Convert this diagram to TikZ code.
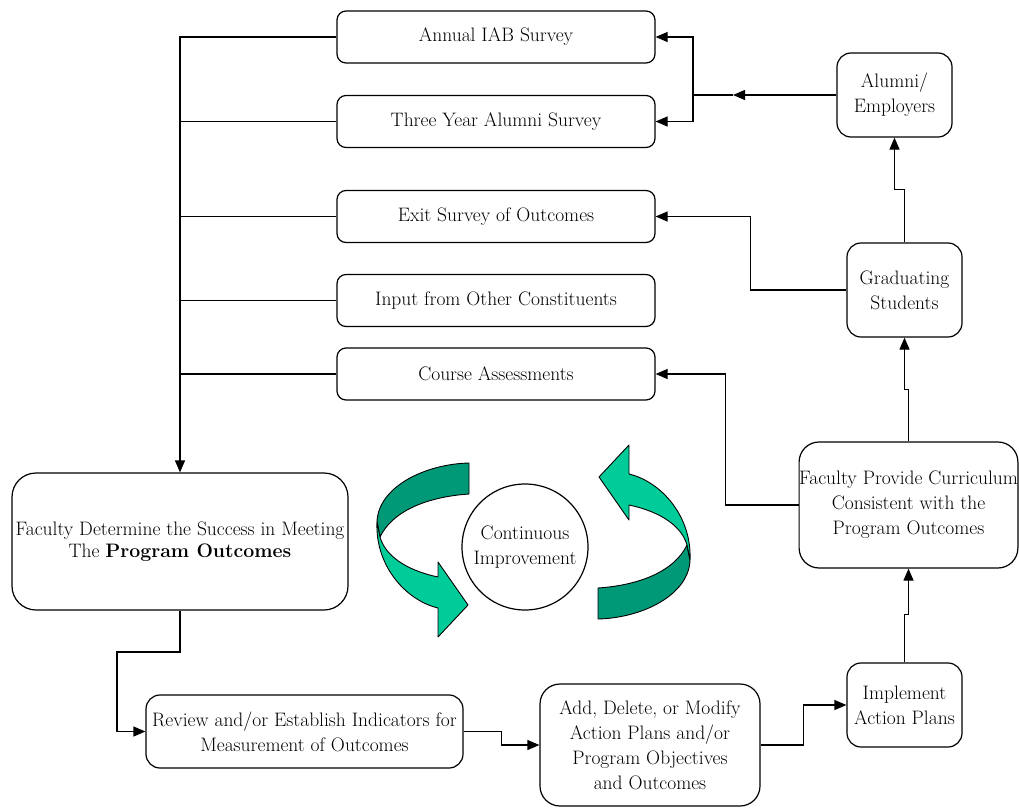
\documentclass[tikz,border=0pt]{standalone}
\usepackage{fontspec}
\usetikzlibrary{arrows.meta}
\definecolor{tealdark}{RGB}{0,153,119}
\definecolor{teallight}{RGB}{0,204,153}
\tikzset{
  box/.style={draw, line width=1.2pt, rounded corners=9pt, align=center, inner sep=0pt,
    font=\fontsize{19.5}{25}\selectfont},
  conn/.style={line width=1.2pt},
  arr/.style={conn, -{Triangle[length=12pt,width=10pt]}},
  ribbon/.style={draw, line width=0.9pt, line join=round},
}
\begin{document}
\begin{tikzpicture}[x=1pt,y=-1pt]
\useasboundingbox (0,0) rectangle (1019,809);

% survey boxes
\node[box, minimum width=318pt, minimum height=52pt] (iab)   at (496,37)    {Annual IAB Survey};
\node[box, minimum width=318pt, minimum height=52pt] (alum3) at (496,121.5) {Three Year Alumni Survey};
\node[box, minimum width=318pt, minimum height=52pt] (exit)  at (496,216.5) {Exit Survey of Outcomes};
\node[box, minimum width=318pt, minimum height=52pt] (input) at (496,300.5) {Input from Other Constituents};
\node[box, minimum width=318pt, minimum height=52pt] (course) at (496,374)  {Course Assessments};

% right column
\node[box, rounded corners=14pt, minimum width=115pt, minimum height=84pt] (alumni) at (894.5,95) {Alumni/\\Employers};
\node[box, rounded corners=14pt, minimum width=115pt, minimum height=94pt] (grad) at (904.5,290) {Graduating\\Students};
\node[box, rounded corners=20pt, minimum width=217pt, minimum height=126pt] (facprov) at (908.5,505)
  {Faculty Provide Curriculum\\Consistent with the\\Program Outcomes};
\node[box, rounded corners=14pt, minimum width=115pt, minimum height=84pt] (impl) at (904.5,705) {Implement\\Action Plans};

% bottom row
\node[box, rounded corners=20pt, minimum width=220pt, minimum height=122pt] (add) at (650,745)
  {Add, Delete, or Modify\\Action Plans and/or\\Program Objectives\\and Outcomes};
\node[box, rounded corners=14pt, minimum width=317pt, minimum height=73pt] (review) at (304.5,731.5)
  {Review and/or Establish Indicators for\\Measurement of Outcomes};

% left
\node[box, rounded corners=24pt, minimum width=336pt, minimum height=137pt,
  font=\fontsize{19.5}{22}\selectfont] (facdet) at (180,541.5)
  {Faculty Determine the Success in Meeting\\The \textbf{Program Outcomes}};

% centre circle
\node[draw, circle, line width=1.2pt, minimum size=126pt, inner sep=0pt, align=center,
  font=\fontsize{19.5}{25}\selectfont] (ci) at (525,547) {Continuous\\Improvement};

% curved arrows
\begin{scope}
  \fill[tealdark, ribbon, draw=black] (469,463) .. controls (425,464) and (378,487) .. (377,522)
     -- (380,537) .. controls (392,512) and (425,497) .. (469,494) -- cycle;
  \fill[teallight, ribbon, draw=black] (377,522) .. controls (375,565) and (405,600) .. (438,608)
     -- (438,637) -- (468,605) -- (438,562) -- (438,577)
     .. controls (405,570) and (385,555) .. (380,537) -- cycle;
\end{scope}
\begin{scope}[rotate around={180:(533.5,541)}]
  \fill[tealdark, ribbon, draw=black] (469,463) .. controls (425,464) and (378,487) .. (377,522)
     -- (380,537) .. controls (392,512) and (425,497) .. (469,494) -- cycle;
  \fill[teallight, ribbon, draw=black] (377,522) .. controls (375,565) and (405,600) .. (438,608)
     -- (438,637) -- (468,605) -- (438,562) -- (438,577)
     .. controls (405,570) and (385,555) .. (380,537) -- cycle;
\end{scope}

% connectors: alumni to surveys
\coordinate (mA) at (733,95);
\coordinate (jA) at (693,95);
\draw[arr] (alumni.west) -- (mA);
\draw[conn] (mA) -- (jA);
\draw[arr] (jA) |- (iab.east);
\draw[arr] (jA) |- (alum3.east);

% bus to faculty determine
\draw[arr] (iab.west) -| (facdet.north);
\draw[conn] (alum3.west) -- (alum3.west -| facdet.north);
\draw[conn] (exit.west) -- (exit.west -| facdet.north);
\draw[conn] (input.west) -- (input.west -| facdet.north);
\draw[conn] (course.west) -- (course.west -| facdet.north);

% bottom flow
\coordinate (c1) at (117,652);
\draw[arr] (facdet.south) |- (c1) |- (review.west);
\draw[arr] (review.east) -- ++(38,0) |- (add.west);
\draw[arr] (add.east) -- ++(43,0) |- (impl.west);
\draw[arr] (impl.north) -- ++(0,-48) -| (facprov.south);
\draw[arr] (facprov.north) -- ++(0,-52) -| (grad.south);
\draw[arr] (grad.north) -- ++(0,-53) -| (alumni.south);

% feedback to surveys
\draw[arr] (grad.west) -- ++(-96,0) |- (exit.east);
\draw[arr] (facprov.west) -- ++(-73,0) |- (course.east);
\end{tikzpicture}
\end{document}
